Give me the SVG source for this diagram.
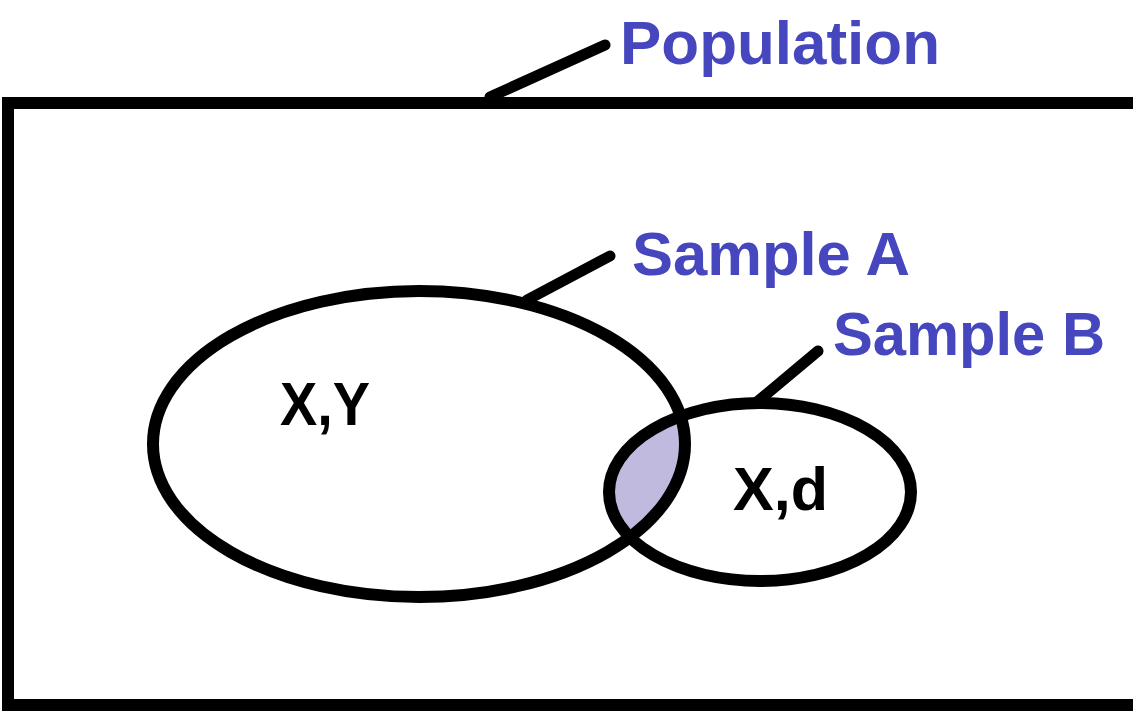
<svg xmlns="http://www.w3.org/2000/svg" width="1133" height="711" viewBox="0 0 1133 711">
<style>
.lbl{font-family:"Liberation Sans",Arial,sans-serif;font-weight:bold;fill:#4646be;font-size:62px}
.in{font-family:"Liberation Sans",Arial,sans-serif;font-weight:bold;fill:#000;font-size:62px}
.ln{stroke:#000;stroke-width:11;fill:none;stroke-linecap:round}
.ring{fill:none;stroke:#000;stroke-width:12}
</style>
<defs>
<clipPath id="bigclip"><ellipse cx="419" cy="444" rx="266" ry="153"/></clipPath>
</defs>
<rect width="1133" height="711" fill="#fff"/>
<g id="population">
<path d="M1140 103 H8 V705 H1140" fill="none" stroke="#000" stroke-width="12"/>
<text class="lbl" x="620" y="64" textLength="320" lengthAdjust="spacingAndGlyphs">Population</text>
</g>
<g id="overlap">
<ellipse cx="760" cy="492" rx="151" ry="89" fill="#c1badf" clip-path="url(#bigclip)"/>
</g>
<g id="sampleA">
<ellipse class="ring" cx="419" cy="444" rx="266" ry="153"/>
<text class="in" x="280" y="425" textLength="90" lengthAdjust="spacingAndGlyphs">X,Y</text>
<text class="lbl" x="632" y="275" textLength="278" lengthAdjust="spacingAndGlyphs">Sample A</text>
</g>
<g id="sampleB">
<ellipse class="ring" cx="760" cy="492" rx="151" ry="89"/>
<text class="in" x="733" y="510" textLength="95" lengthAdjust="spacingAndGlyphs">X,d</text>
<text class="lbl" x="833" y="355" textLength="272" lengthAdjust="spacingAndGlyphs">Sample B</text>
</g>
<g id="connectors">
<line class="ln" x1="490" y1="97" x2="605" y2="45"/>
<line class="ln" x1="527" y1="300" x2="610" y2="256"/>
<line class="ln" x1="757" y1="402" x2="818" y2="351"/>
</g>
</svg>
